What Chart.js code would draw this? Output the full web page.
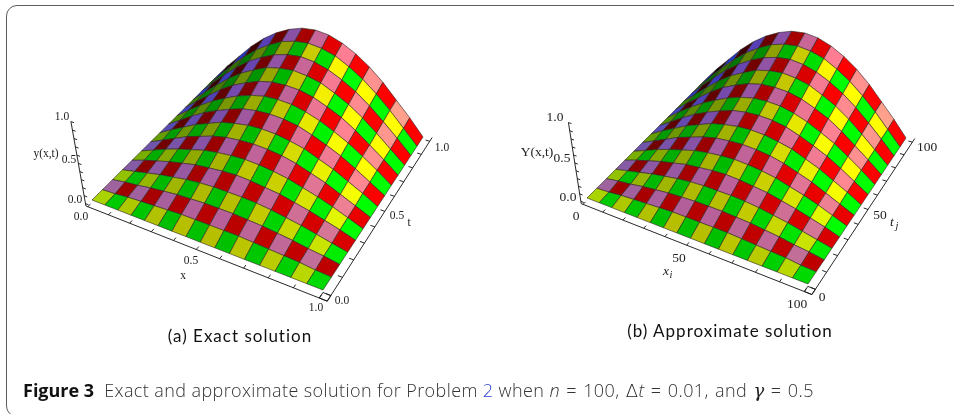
<!DOCTYPE html>
<html>
<head>
<meta charset="utf-8">
<style>
html, body { margin: 0; padding: 0; background: #fff; }
body { width: 954px; height: 414px; position: relative; overflow: hidden; }
canvas { position: absolute; top: 0; }
#frame { position: absolute; left: 6px; top: 5px; width: 960px; height: 412px; border: 1.6px solid #5c5c5c; border-radius: 11px; box-sizing: border-box; }
.sub { position: absolute; color: #111; font-family: Lato, sans-serif; font-size: 17px; letter-spacing: 1px; white-space: nowrap; transform: translate(-50%, -50%); }
#caption { position: absolute; left: 23px; top: 378px; font-family: "Open Sans", sans-serif; font-size: 18px; font-weight: 300; color: #333; white-space: nowrap; letter-spacing: .4px; }
#caption b { color: #111; font-weight: 700; margin-right: 5px; letter-spacing: 0; }
#caption span { color: #2a3fd0; }
#caption u { text-decoration: none; word-spacing: 1.2px; }
#caption em.g { font-family: "DejaVu Serif", serif; color: #222; }
#caption em.d { font-family: "DejaVu Sans", sans-serif; font-style: normal; color: #222; }
</style>
</head>
<body>
<div id="frame"></div>
<canvas id="chartA" width="477" height="414" style="left:0"></canvas>
<canvas id="chartB" width="477" height="414" style="left:477px"></canvas>
<div class="sub" style="left:240px;top:335px">(a) Exact solution</div>
<div class="sub" style="left:730px;top:330px">(b) Approximate solution</div>
<div id="caption"><b>Figure 3</b> Exact and approximate solution for Problem <span>2</span> when <u><i>n</i> = 100, <em class="d">Δ</em><i>t</i> = 0.01, and <em class="g">γ</em> = 0.5</u></div>
<script src="https://cdn.jsdelivr.net/npm/chart.js@4"></script>
<script>
const surfaceA = [
  [0, 0, 0, 0, 0, 0, 0, 0, 0, 0, 0, 0, 0, 0, 0, 0, 0],
  [0, .01, .03, .04, .05, .06, .07, .07, .07, .07, .07, .06, .05, .04, .03, .01, 0],
  [0, .03, .05, .08, .10, .12, .13, .14, .14, .14, .13, .12, .10, .08, .05, .03, 0],
  [0, .04, .08, .12, .15, .18, .20, .21, .21, .21, .20, .18, .15, .12, .08, .04, 0],
  [0, .06, .11, .16, .20, .24, .26, .28, .29, .28, .26, .24, .20, .16, .11, .06, 0],
  [0, .07, .14, .20, .25, .30, .33, .35, .36, .35, .33, .30, .25, .20, .14, .07, 0],
  [0, .08, .16, .24, .30, .36, .40, .42, .43, .42, .40, .36, .30, .24, .16, .08, 0],
  [0, .10, .19, .28, .35, .42, .46, .49, .50, .49, .46, .42, .35, .28, .19, .10, 0],
  [0, .11, .22, .32, .40, .47, .53, .56, .57, .56, .53, .47, .40, .32, .22, .11, 0],
  [0, .13, .25, .36, .45, .53, .59, .63, .64, .63, .59, .53, .45, .36, .25, .13, 0],
  [0, .14, .27, .40, .51, .59, .66, .70, .71, .70, .66, .59, .51, .40, .27, .14, 0],
  [0, .15, .30, .44, .56, .65, .73, .77, .79, .77, .73, .65, .56, .44, .30, .15, 0],
  [0, .17, .33, .48, .61, .71, .79, .84, .86, .84, .79, .71, .61, .48, .33, .17, 0],
  [0, .18, .36, .52, .66, .77, .86, .91, .93, .91, .86, .77, .66, .52, .36, .18, 0],
  [0, .20, .38, .56, .71, .83, .92, .98, 1, .98, .92, .83, .71, .56, .38, .20, 0]
];
// the approximate surface reads the same at this size
const surfaceB = surfaceA;

const axisStops = [0, .1, .2, .3, .4, .5, .6, .7, .8, .9, 1];

// camera anchors, in page pixels
const viewA = { left: 0, a: [92, 200], b: [323, 290], c: [423, 137], d: [217, 76], up: [83, 120], peak: 30, font: 11.5,
  labels: [
    ['1.0', 62, 117], ['0.5', 69, 160], ['0.0', 75, 200], ['y(x,t)', 46, 154],
    ['0.0', 81, 217], ['0.5', 191, 261], ['x', 183, 276], ['1.0', 316, 308],
    ['0.0', 342, 301], ['0.5', 397, 216], ['t', 409, 223], ['1.0', 442, 148]
  ] };
const viewB = { left: 477, a: [587, 198], b: [808, 284], c: [906, 138], d: [706, 79], up: [580, 121], peak: 33, font: 13.5,
  labels: [
    ['1.0', 555, 117], ['0.5', 562, 158], ['0.0', 568, 197], ['Y(x,t)', 537, 152],
    ['0', 576, 216], ['50', 679, 258], ['x', 666, 271, 'i'], ['100', 797, 304],
    ['0', 822, 297], ['50', 880, 215], ['t', 892, 222, 'j'], ['100', 927, 147]
  ] };

const det = (p, q) => p[0] * q[1] - p[1] * q[0];

function camera(v) {
  const s = [v.a[0] - v.b[0] + v.c[0] - v.d[0], v.a[1] - v.b[1] + v.c[1] - v.d[1]];
  const d1 = [v.b[0] - v.c[0], v.b[1] - v.c[1]];
  const d2 = [v.d[0] - v.c[0], v.d[1] - v.c[1]];
  const g = det(s, d2) / det(d1, d2);
  const h = det(d1, s) / det(d1, d2);
  const ax = v.b[0] - v.a[0] + g * v.b[0], ay = v.b[1] - v.a[1] + g * v.b[1];
  const bx = v.d[0] - v.a[0] + h * v.d[0], by = v.d[1] - v.a[1] + h * v.d[1];
  // height term comes from the peak's page row
  const n = ay * .5 + by + v.a[1], w = 1 + g * .5 + h;
  const r = (v.peak * w - n - v.up[1] + v.a[1]) / (v.up[1] - v.peak);
  const cx = v.up[0] * (1 + r) - v.a[0], cy = v.up[1] * (1 + r) - v.a[1];
  return (x, t, y) => {
    const q = 1 + g * x + h * t + r * y;
    return { x: (ax * x + bx * t + cx * y + v.a[0]) / q, y: (ay * x + by * t + cy * y + v.a[1]) / q };
  };
}

const clamp = c => Math.round(Math.min(1, Math.max(0, c)) * 255);

// shading follows the slope of the cell, like the lights in the original plot
function cellColor(grid, i, j) {
  const nx = grid[0].length - 1, nt = grid.length - 1;
  const dx = (grid[j][i + 1] + grid[j + 1][i + 1] - grid[j][i] - grid[j + 1][i]) * nx / 2;
  const dt = (grid[j + 1][i] + grid[j + 1][i + 1] - grid[j][i] - grid[j][i + 1]) * nt / 2;
  const fr = .68 + .04 * dt - .2 * dx;
  const fg = .85 - .1 * dt - .15 * dx;
  const fb = dx > 0 ? 1 + .1 * dx : 1 + .03 * dx;
  const base = j % 2 === 0 ? (i % 2 === 0 ? [1, 1, 0] : [0, 1, 0]) : (i % 2 === 0 ? [1, .5, .6] : [1, 0, 0]);
  return `rgb(${clamp(base[0] * fr)},${clamp(base[1] * fg)},${clamp(base[2] * fb)})`;
}

function buildDatasets(grid, view) {
  const p = camera(view);
  const sets = [];
  const nx = grid[0].length - 1, nt = grid.length - 1;
  // nearest cell first: chart.js paints the first dataset last
  for (let j = 0; j < nt; j++) {
    for (let i = nx - 1; i >= 0; i--) {
      const corner = (a, b) => p(a / nx, b / nt, grid[b][a]);
      sets.push({
        data: [corner(i, j), corner(i + 1, j), corner(i + 1, j + 1), corner(i, j + 1), corner(i, j)],
        showLine: true, fill: 'shape', tension: 0, pointRadius: 0,
        backgroundColor: cellColor(grid, i, j),
        borderColor: 'rgba(45,35,35,.85)', borderWidth: .7
      });
    }
  }
  const e = .03, f = .01, lean = .025;
  const line = pts => sets.push({ data: pts.map(q => p(q[0], q[1], q[2])), showLine: true, tension: 0, pointRadius: 0, borderColor: '#111', borderWidth: .9, fill: false });
  line([[-f - lean, -e, 1], [-f + lean * e, -e, -e], [1 + e, -e, -e], [1 + e, 1 + e, -e]]);
  line([[1 + e, -e, -e], [1, -e, -e], [1, 0, -e], [1 + e, 0, -e], [1 + e, -e, -e]]);
  axisStops.forEach(s => {
    line([[-f - lean * s, -e, s], [-f - lean * s + .015, -e, s]]);
    line([[s, -e, -e], [s, -e + .018, -e]]);
    line([[1 + e, s, -e], [1 + e - .018, s, -e]]);
  });
  return sets;
}

const labelPlugin = {
  id: 'axisLabels',
  afterDraw(chart, args, opts) {
    const c = chart.ctx, sx = chart.scales.x, sy = chart.scales.y;
    c.save();
    c.fillStyle = '#222';
    c.textAlign = 'center';
    c.textBaseline = 'middle';
    opts.labels.forEach(l => {
      c.font = `${l[3] ? 'italic ' : ''}${opts.font}px "Liberation Serif", serif`;
      c.fillText(l[0], sx.getPixelForValue(l[1]), sy.getPixelForValue(l[2]));
      if (l[3]) {
        c.font = `italic ${opts.font - 3}px "Liberation Serif", serif`;
        c.fillText(l[3], sx.getPixelForValue(l[1] + 5), sy.getPixelForValue(l[2] + 4));
      }
    });
    c.restore();
  }
};

function draw(id, grid, view) {
  new Chart(document.getElementById(id), {
    type: 'scatter',
    data: { datasets: buildDatasets(grid, view) },
    options: {
      responsive: false,
      animation: false,
      layout: { padding: 0 },
      scales: {
        x: { type: 'linear', display: false, min: view.left, max: view.left + 477 },
        y: { type: 'linear', display: false, min: 0, max: 414, reverse: true }
      },
      plugins: { legend: { display: false }, tooltip: { enabled: false }, axisLabels: { labels: view.labels, font: view.font } }
    },
    plugins: [labelPlugin]
  });
}

draw('chartA', surfaceA, viewA);
draw('chartB', surfaceB, viewB);
</script>
</body>
</html>
